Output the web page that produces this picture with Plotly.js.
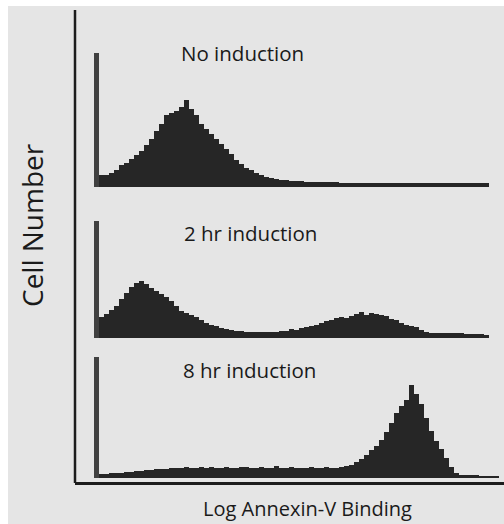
<!DOCTYPE html>
<html>
<head>
<meta charset="utf-8">
<script src="https://cdn.plot.ly/plotly-3.0.1.min.js"></script>
<style>
  html, body { margin: 0; padding: 0; background: #ffffff; width: 504px; height: 524px; overflow: hidden; }
  #chart { position: absolute; left: 8px; top: 6px; width: 496px; height: 518px; }
</style>
</head>
<body>
<div id="chart"></div>
<script>
// Histogram bins (channel index along Log Annexin-V axis)
const bins = Array.from({length: 81}, (_, i) => i);

// Cell counts per bin
const noInduction = [
  134, 12, 12, 14, 17, 22, 24, 28, 32, 36,
  42, 48, 56, 63, 72, 74, 76, 80, 87, 78,
  72, 63, 58, 53, 48, 43, 38, 33, 27, 23,
  19, 17, 14, 12, 10, 9, 8, 7, 7, 6,
  6, 6, 5, 5, 5, 5, 5, 5, 5, 4,
  4, 4, 4, 4, 4, 4, 4, 4, 4, 4,
  4, 4, 4, 4, 4, 4, 4, 4, 4, 4,
  4, 4, 4, 4, 4, 4, 4, 4, 4, 0,
  0
];

const twoHr = [
  118, 21, 24, 29, 33, 40, 46, 52, 56, 58,
  55, 51, 48, 45, 42, 38, 33, 28, 26, 23,
  21, 18, 15, 13, 12, 10, 9, 8, 7, 7,
  6, 6, 6, 6, 6, 6, 6, 7, 7, 9,
  8, 10, 11, 12, 13, 15, 17, 18, 20, 21,
  20, 22, 24, 27, 23, 26, 25, 23, 22, 19,
  18, 15, 13, 12, 11, 8, 6, 5, 5, 5,
  5, 5, 5, 5, 4, 4, 4, 4, 3, 0,
  0
];

const eightHr = [
  121, 4, 4, 5, 5, 5, 6, 6, 7, 7,
  8, 8, 9, 9, 9, 10, 10,
  10, 11, 10, 10, 11, 10, 11, 10, 10, 11,
  10, 10, 11, 11, 10, 10, 11, 10, 10, 12,
  10, 10, 11, 10, 10, 10, 11, 10, 10, 11,
  10, 10, 11, 12,
  13, 16, 19, 23, 28, 32, 38, 46, 55, 65,
  72, 78, 93, 84, 74, 60, 47, 37, 29, 20,
  11, 5, 3, 3, 3, 3, 2, 2, 2, 2
];

const panelLabels = ["No induction", "2 hr induction", "8 hr induction"];
const xTitle = "Log Annexin-V Binding";
const yTitle = "Cell Number";

const fillDark = "#262626";
const spikeColor = "#404040";
function colors(arr) { return arr.map((_, i) => i === 0 ? spikeColor : fillDark); }

function barTrace(vals, yaxis) {
  return {
    type: "bar", x: bins, y: vals, yaxis: yaxis, width: 1,
    marker: { color: colors(vals), line: { width: 0 } },
    hoverinfo: "skip", showlegend: false
  };
}

const data = [
  barTrace(noInduction, "y"),
  barTrace(twoHr, "y2"),
  barTrace(eightHr, "y3")
];

const txt = { family: "Open Sans, Liberation Sans, sans-serif", color: "#1a1a1a" };
const hiddenY = { visible: false, fixedrange: true };

const layout = {
  width: 496, height: 518,
  margin: { l: 67, r: 0, t: 4, b: 41 },
  paper_bgcolor: "#e5e5e5",
  plot_bgcolor: "#e5e5e5",
  bargap: 0,
  showlegend: false,
  xaxis: {
    range: [-4.3, 81.5], anchor: "free", position: 0,
    showline: true, linecolor: "#1c1c1c", linewidth: 3,
    showgrid: false, zeroline: false, ticks: "", showticklabels: false
  },
  yaxis:  Object.assign({ domain: [0.6258, 0.9324], range: [0, 145] }, hiddenY),
  yaxis2: Object.assign({ domain: [0.3055, 0.5761], range: [0, 128] }, hiddenY),
  yaxis3: Object.assign({ domain: [0.01057, 0.2812], range: [0, 128] }, hiddenY),
  shapes: [
    { type: "line", xref: "paper", yref: "paper", x0: 0, x1: 0, y0: 0, y1: 1,
      line: { color: "#1c1c1c", width: 2.5 } }
  ],
  annotations: [
    { text: panelLabels[0], xref: "paper", yref: "paper", x: 0.3916, y: 0.909,
      xanchor: "center", yanchor: "middle", showarrow: false, font: Object.assign({ size: 20.5 }, txt) },
    { text: panelLabels[1], xref: "paper", yref: "paper", x: 0.408, y: 0.5285,
      xanchor: "center", yanchor: "middle", showarrow: false, font: Object.assign({ size: 20.5 }, txt) },
    { text: panelLabels[2], xref: "paper", yref: "paper", x: 0.4056, y: 0.2389,
      xanchor: "center", yanchor: "middle", showarrow: false, font: Object.assign({ size: 20.5 }, txt) },
    { text: xTitle, xref: "paper", yref: "paper", x: 0.543, y: -0.0529,
      xanchor: "center", yanchor: "middle", showarrow: false, font: Object.assign({ size: 20 }, txt) },
    { text: yTitle, xref: "paper", yref: "paper", x: -0.1002, y: 0.5455, textangle: -90,
      xanchor: "center", yanchor: "middle", showarrow: false, font: Object.assign({ size: 28 }, txt) }
  ]
};

Plotly.newPlot("chart", data, layout, { staticPlot: true, displayModeBar: false });
</script>
</body>
</html>
